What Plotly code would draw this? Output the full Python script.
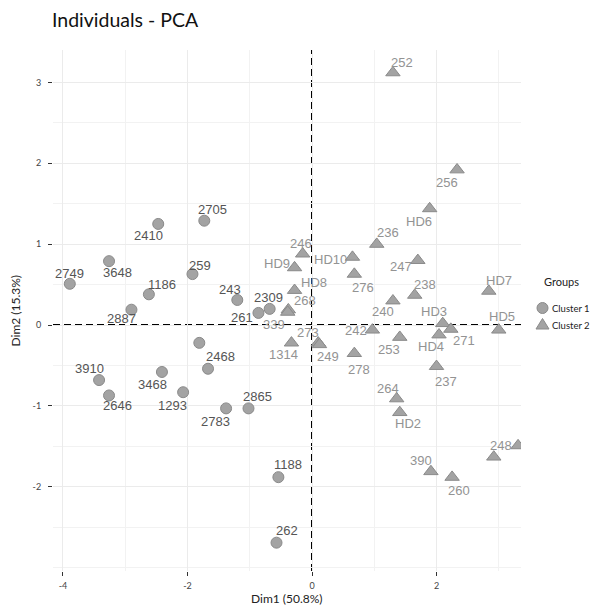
import plotly.graph_objects as go

# ---------------- data ----------------
c1_names = ["2705", "2410", "3648", "2749", "1186", "2887", "259", "243", "2309", "261",
            "2468", "", "3910", "2646", "3468", "1293", "2783", "2865", "1188", "262"]
c1_x = [-1.73, -2.47, -3.26, -3.89, -2.62, -2.90, -1.92, -1.20, -0.68, -0.86,
        -1.67, -1.81, -3.42, -3.26, -2.41, -2.07, -1.38, -1.02, -0.54, -0.57]
c1_y = [1.29, 1.25, 0.79, 0.51, 0.38, 0.19, 0.63, 0.31, 0.20, 0.15,
        -0.54, -0.22, -0.68, -0.87, -0.58, -0.83, -1.03, -1.03, -1.88, -2.69]

c2_names = ["252", "256", "HD6", "236", "246", "HD9", "HD10", "247", "276", "HD8",
            "268", "339", "240", "238", "HD7", "HD3", "271", "HD5", "HD4", "242",
            "253", "273", "249", "1314", "278", "237", "264", "HD2", "390", "260",
            "248", ""]
c2_x = [1.30, 2.33, 1.89, 1.04, -0.15, -0.28, 0.65, 1.70, 0.68, -0.28,
        -0.38, -0.39, 1.30, 1.65, 2.84, 2.10, 2.23, 3.00, 2.04, 0.97,
        1.41, 0.10, 0.12, -0.33, 0.68, 2.00, 1.36, 1.41, 1.91, 2.25,
        3.31, 2.92]
c2_y = [3.12, 1.92, 1.44, 1.00, 0.88, 0.71, 0.84, 0.80, 0.63, 0.43,
        0.19, 0.16, 0.30, 0.37, 0.42, 0.02, -0.05, -0.06, -0.12, -0.06,
        -0.15, -0.22, -0.24, -0.22, -0.35, -0.51, -0.91, -1.08, -1.81, -1.88,
        -1.49, -1.63]

chart_title = "Individuals - PCA"
x_title = "Dim1 (50.8%)"
y_title = "Dim2 (15.3%)"
legend_title = "Groups"
group_names = ["Cluster 1", "Cluster 2"]
x_ticks = [-4, -2, 0, 2]
x_ticktext = ["-4", "-2", "0", "2"]
y_ticks = [-2, -1, 0, 1, 2, 3]
y_ticktext = ["-2", "-1", "0", "1", "2", "3"]

# ---------------- label placement (pixel offsets, repel-like style) ----------------
c1_off = [(8, -11), (-10, 12), (8, 11), (0, -10), (13, -10), (-10, 9), (8, -9), (-7, -10),
          (-1, -11), (-16, 5), (12, -12), (0, 0), (-10, -12), (8, 10), (-9, 13), (-11, 13),
          (-11, 13), (9, -12), (10, -13), (10, -12)]
c2_off = [(9, -10), (-10, 13), (-11, 13), (11, -12), (-2, -10), (-18, -4), (-22, 2), (-17, 6),
          (9, 13), (19, -8), (17, -9), (-14, 12), (-10, 11), (10, -11), (10, -11), (-9, -12),
          (13, 11), (3, -13), (-8, 12), (-16, 1), (-11, 12), (-10, -10), (9, 12), (-8, 12),
          (5, 16), (9, 15), (-9, -10), (8, 11), (-10, -11), (7, 13), (-17, 0), (0, 0)]

MARKER_FILL = "#a3a3a3"
MARKER_LINE = "#8a8a8a"
C1_TEXT = "#555555"
C2_TEXT = "#939393"
LABEL_FONT = "Liberation Sans, Arial, sans-serif"
UI_FONT = "Lato, Open Sans, sans-serif"

# figure geometry (page body has an 8px margin)
W, H = 591, 602
ML, MR, MT, MB = 45, 78, 42, 39
PW, PH = W - ML - MR, H - MT - MB
X_RANGE = [-4.16, 3.357]
Y_RANGE = [-3.04, 3.40]


def px_to_paper(fx, fy):
    return (fx - ML) / PW, (H - MB - fy) / PH


fig = go.Figure()
fig.add_trace(go.Scatter(
    x=c1_x, y=c1_y, mode="markers", name=group_names[0],
    marker=dict(symbol="circle", size=11, color=MARKER_FILL,
                line=dict(color=MARKER_LINE, width=1)),
    hoverinfo="skip", showlegend=False))
fig.add_trace(go.Scatter(
    x=c2_x, y=c2_y, mode="markers", name=group_names[1],
    marker=dict(symbol="triangle-up", size=12.5, color=MARKER_FILL,
                line=dict(color=MARKER_LINE, width=1)),
    hoverinfo="skip", showlegend=False))

annotations = []
for names, xs, ys, offs, col in [(c1_names, c1_x, c1_y, c1_off, C1_TEXT),
                                 (c2_names, c2_x, c2_y, c2_off, C2_TEXT)]:
    for n, xv, yv, (dx, dy) in zip(names, xs, ys, offs):
        if not n:
            continue
        annotations.append(dict(x=xv, y=yv, xref="x", yref="y", text=n, showarrow=False,
                                xshift=dx, yshift=-dy,
                                font=dict(family=LABEL_FONT, size=13, color=col)))

# ---------------- titles ----------------
tx, ty = px_to_paper(42, 12)
annotations.append(dict(x=tx, y=ty, xref="paper", yref="paper", text=chart_title,
                        showarrow=False, xanchor="left", yanchor="middle",
                        font=dict(family=UI_FONT, size=19.5, color="#111111")))
ax_x, ax_y = px_to_paper(ML + PW / 2, 590)
annotations.append(dict(x=ax_x, y=ax_y, xref="paper", yref="paper", text=x_title,
                        showarrow=False, xanchor="center", yanchor="middle",
                        font=dict(family=UI_FONT, size=12, color="#222222")))
ay_x, ay_y = px_to_paper(7, MT + PH / 2)
annotations.append(dict(x=ay_x, y=ay_y, xref="paper", yref="paper", text=y_title,
                        showarrow=False, xanchor="center", yanchor="middle", textangle=-90,
                        font=dict(family=UI_FONT, size=12, color="#222222")))

# ---------------- manual legend (ggplot-like compact layout) ----------------
gx, gy = px_to_paper(534, 273)
annotations.append(dict(x=gx, y=gy, xref="paper", yref="paper", text=legend_title,
                        showarrow=False, xanchor="left", yanchor="middle",
                        font=dict(family=UI_FONT, size=11, color="#222222")))
shapes = []
for i, name in enumerate(group_names):
    sx, sy = px_to_paper(534.5, 300 + 17 * i)
    lx, _ = px_to_paper(542, 0)
    annotations.append(dict(x=lx, y=sy, xref="paper", yref="paper", text=name,
                            showarrow=False, xanchor="left", yanchor="middle",
                            font=dict(family=UI_FONT, size=9.5, color="#222222")))
    common = dict(xref="paper", yref="paper", xsizemode="pixel", ysizemode="pixel",
                  xanchor=sx, yanchor=sy, fillcolor=MARKER_FILL,
                  line=dict(color=MARKER_LINE, width=1), layer="above")
    if i == 0:
        shapes.append(dict(type="circle", x0=-5.5, x1=5.5, y0=-5.5, y1=5.5, **common))
    else:
        shapes.append(dict(type="path", path="M -6.5,-4 L 6.5,-4 L 0,6.5 Z", **common))

fig.update_layout(annotations=annotations, shapes=shapes)

fig.add_vline(x=0, line=dict(color="black", width=2, dash="7px,4px"), layer="below")
fig.add_hline(y=0, line=dict(color="black", width=2, dash="7px,4px"), layer="below")

axis_common = dict(
    showgrid=True, gridcolor="#ebebeb", gridwidth=1,
    zeroline=False, showline=False, automargin=False,
    ticks="outside", ticklen=4, tickwidth=1, tickcolor="#333333",
    tickfont=dict(family=UI_FONT, size=9, color="#444444"),
    minor=dict(showgrid=True, gridcolor="#f2f2f2", gridwidth=1, ticks=""),
)
fig.update_xaxes(range=X_RANGE, tickvals=x_ticks, ticktext=x_ticktext,
                 minor_dtick=1, minor_tick0=-3, ticklabelstandoff=2, **axis_common)
fig.update_yaxes(range=Y_RANGE, tickvals=y_ticks, ticktext=y_ticktext,
                 minor_dtick=0.5, minor_tick0=0.5, ticklabelstandoff=5, **axis_common)

fig.update_layout(
    width=W, height=H,
    margin=dict(l=ML, r=MR, t=MT, b=MB, autoexpand=False),
    paper_bgcolor="white", plot_bgcolor="white",
    showlegend=False,
)

fig.write_html("out.html")
